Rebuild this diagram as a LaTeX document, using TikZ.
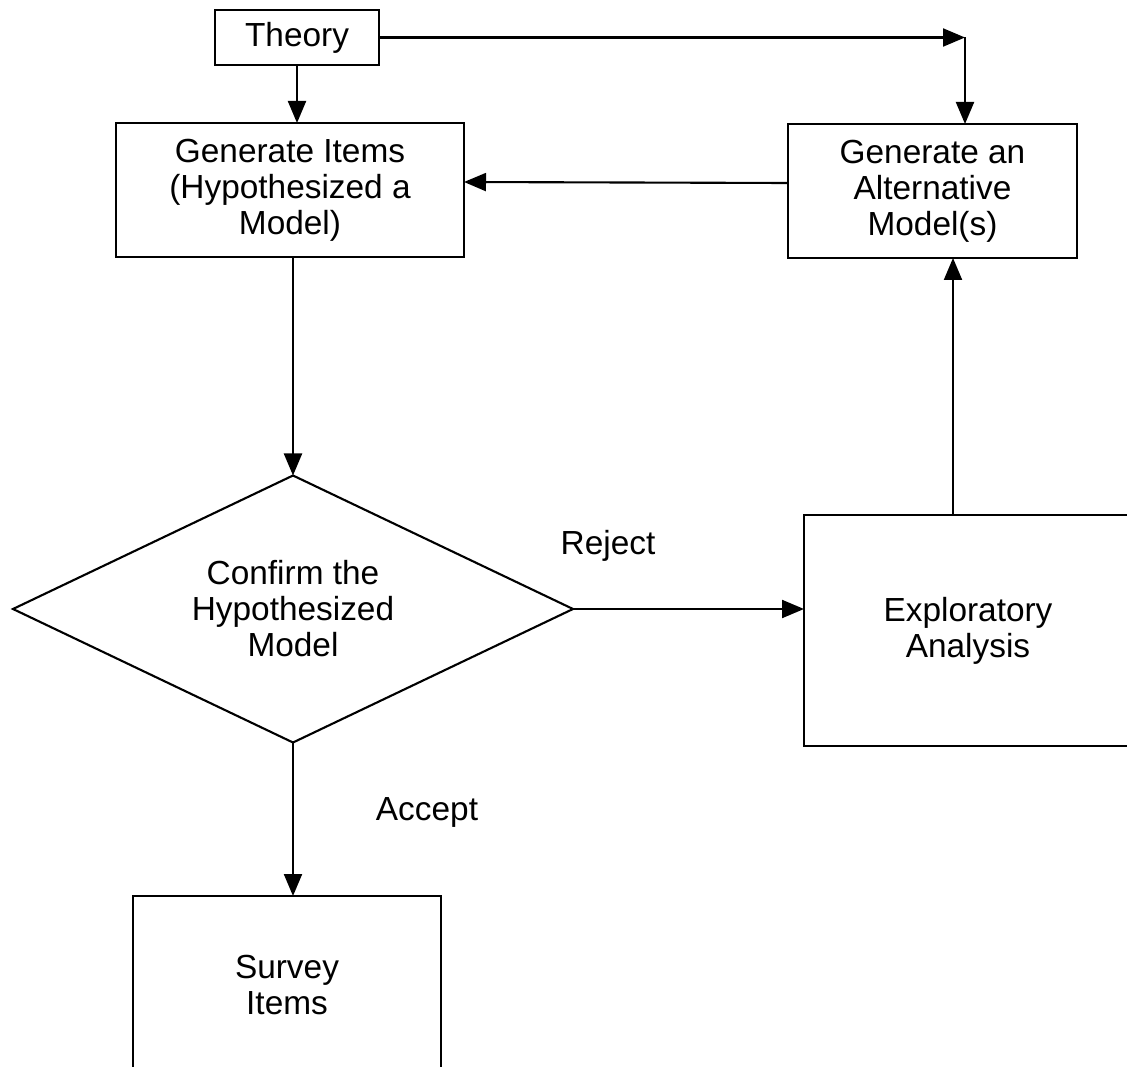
\documentclass[tikz,border=0pt]{standalone}
\usepackage{fontspec}
\setmainfont{Liberation Sans}
\usetikzlibrary{arrows.meta,positioning,shapes.geometric}
\tikzset{
	box/.style={draw, line width=1.2pt, align=center, inner sep=0, outer sep=0,
		font=\fontsize{19}{20.5}\selectfont},
	decision/.style={box, diamond, aspect=2.1},
	lbl/.style={font=\fontsize{19}{20.5}\selectfont, inner sep=0},
	arr/.style={line width=1.2pt, -{Triangle[length=0.44cm,width=0.36cm]}}
}
\begin{document}
\begin{tikzpicture}
	\useasboundingbox (0,0) rectangle (22.54,-21.34);
	\clip (0,0) rectangle (22.54,-21.34);
	
	\node[box, minimum width=3.28cm, minimum height=1.1cm] (theory) at (5.94,-0.75) {Theory};
	
	\node[box, minimum width=6.96cm, minimum height=2.68cm] (gitems) at (5.8,-3.8) {Generate Items\\(Hypothesized a\\Model)};
	
	\node[box, minimum width=5.78cm, minimum height=2.68cm] (galt) at (18.65,-3.82) {Generate an\\Alternative\\Model(s)};
	
	\node[decision, minimum width=11.2cm, minimum height=5.34cm] (confirm) at (5.86,-12.18) {Confirm the\\Hypothesized\\Model};
	
	\node[box, minimum width=6.56cm, minimum height=4.62cm] (explo) at (19.36,-12.61) {Exploratory\\Analysis};
	
	\node[box, minimum width=6.16cm, minimum height=3.56cm] (survey) at (5.74,-19.7) {Survey\\Items};
	
	\node[lbl] (reject) at (12.16,-10.92) {Reject};
	\node[lbl] (accept) at (8.54,-16.24) {Accept};
	
	\coordinate (corner) at (19.3,-0.75);
	
	\draw[arr] (theory) -- (theory |- gitems.north);
	\draw[arr] (theory.east) -- (corner);
	\draw[arr] (corner) -- (corner |- galt.north);
	\draw[arr] ([yshift=0.16cm]galt.west) -- ([yshift=0.16cm]gitems.east);
	\draw[arr] (confirm.north |- gitems.south) -- (confirm.north);
	\draw[arr] (confirm.east) -- (confirm.east -| explo.west);
	\draw[arr] ([xshift=-0.3cm]explo.north) -- ([xshift=-0.3cm]explo.north |- galt.south);
	\draw[arr] (confirm.south) -- (confirm.south |- survey.north);
\end{tikzpicture}
\end{document}
